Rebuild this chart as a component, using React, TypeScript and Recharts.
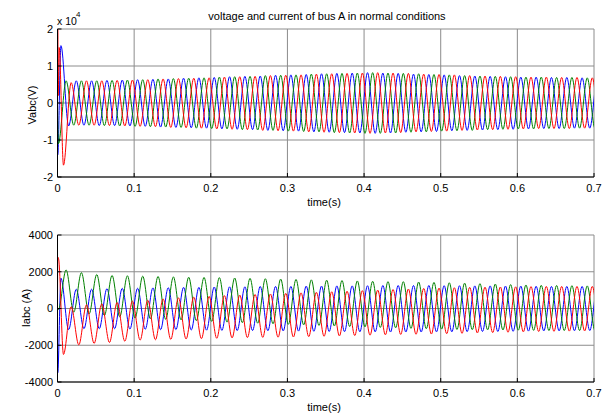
import React from 'react';
import { LineChart, Line, XAxis, YAxis, CartesianGrid } from 'recharts';

// 50 Hz signals: extrema every half period
const HALF = 0.01;
const timeTicks = [0, 0.1, 0.2, 0.3, 0.4, 0.5, 0.6, 0.7];
const vTicks = [-20000, -10000, 0, 10000, 20000];
const iTicks = [-4000, -2000, 0, 2000, 4000];

// ---- Voltage (V) ----
const vBlueStart: [number, number][] = [[0, 0], [0.0003, -14000]];
const vBluePeaks = [15500, 6000, 6000, 6100, 6200, 6300, 6400, 6500, 6700, 6800, 6900, 7100, 7200, 7300, 7500, 7600, 7700, 7900, 8000, 8100, 8200, 8100, 8000, 7800, 7700, 7600, 7400, 7300, 7200, 7100, 7000, 7000, 6900, 6900, 6800, 6800];
const vBlueTroughs = [-6200, -6000, -6100, -6100, -6200, -6300, -6500, -6600, -6700, -6800, -7000, -7100, -7200, -7400, -7500, -7600, -7800, -7900, -8000, -8100, -8200, -8100, -7900, -7800, -7700, -7500, -7400, -7300, -7200, -7100, -7000, -6900, -6900, -6800, -6800, -6800];

const vGreenStart: [number, number][] = [[0, 0]];
const vGreenTroughs = [-11000, -6000, -6000, -6100, -6200, -6300, -6400, -6500, -6600, -6800, -6900, -7000, -7200, -7300, -7400, -7600, -7700, -7800, -8000, -8100, -8200, -8200, -8100, -7900, -7800, -7600, -7500, -7400, -7200, -7100, -7000, -7000, -6900, -6900, -6800, -6800];
const vGreenPeaks = [6000, 6000, 6000, 6100, 6200, 6300, 6500, 6600, 6700, 6800, 7000, 7100, 7200, 7400, 7500, 7600, 7800, 7900, 8000, 8100, 8200, 8100, 8000, 7900, 7700, 7600, 7400, 7300, 7200, 7100, 7000, 7000, 6900, 6900, 6800, 6800];

const vRedStart: [number, number][] = [[0, 0], [0.0003, 20000], [0.0009, 2000], [0.0022, 15000]];
const vRedTroughs = [-16800, -6000, -6000, -6100, -6200, -6300, -6400, -6600, -6700, -6800, -7000, -7100, -7200, -7400, -7500, -7600, -7800, -7900, -8000, -8100, -8200, -8100, -8000, -7800, -7700, -7600, -7400, -7300, -7200, -7100, -7000, -6900, -6900, -6900, -6800, -6800];
const vRedPeaks = [5500, 6000, 6000, 6100, 6200, 6300, 6500, 6600, 6700, 6800, 7000, 7100, 7200, 7400, 7500, 7600, 7800, 7900, 8000, 8100, 8200, 8100, 8000, 7800, 7700, 7600, 7400, 7300, 7200, 7100, 7000, 7000, 6900, 6900, 6800, 6800];

// ---- Current (A) ----
const iBlueStart: [number, number][] = [[0, 0], [0.0003, -3500]];
const iBluePeaks = [1650, 1050, 1050, 1080, 1100, 1100, 1120, 1130, 1150, 1150, 1170, 1180, 1180, 1200, 1200, 1200, 1220, 1220, 1230, 1230, 1240, 1250, 1250, 1250, 1250, 1240, 1240, 1230, 1230, 1220, 1220, 1210, 1200, 1200, 1200, 1200];
const iBlueTroughs = [-1150, -1100, -1100, -1100, -1120, -1130, -1150, -1150, -1170, -1180, -1190, -1200, -1200, -1210, -1220, -1230, -1240, -1250, -1260, -1270, -1270, -1280, -1280, -1280, -1270, -1270, -1260, -1250, -1250, -1240, -1230, -1220, -1220, -1210, -1200, -1200];

const iGreenStart: [number, number][] = [[0, 0]];
const iGreenTroughs = [-50, -200, -300, -380, -450, -520, -560, -590, -620, -660, -700, -740, -770, -800, -830, -860, -890, -920, -950, -980, -1000, -1030, -1050, -1080, -1100, -1120, -1140, -1150, -1160, -1170, -1180, -1190, -1200, -1200, -1200, -1200];
const iGreenPeaks = [2100, 1950, 1850, 1800, 1780, 1760, 1740, 1720, 1700, 1690, 1680, 1660, 1640, 1620, 1600, 1580, 1560, 1540, 1520, 1500, 1480, 1460, 1460, 1440, 1420, 1400, 1380, 1350, 1330, 1300, 1280, 1260, 1250, 1240, 1230, 1220];

const iRedStart: [number, number][] = [[0, 0], [0.0003, 2800], [0.0015, 2700]];
const iRedTroughs = [-2500, -1980, -1900, -1850, -1780, -1720, -1700, -1680, -1660, -1640, -1620, -1600, -1580, -1570, -1560, -1550, -1530, -1510, -1490, -1470, -1450, -1430, -1410, -1400, -1390, -1370, -1350, -1330, -1310, -1290, -1270, -1250, -1240, -1230, -1220, -1210];
const iRedPeaks = [100, 200, 250, 330, 400, 450, 520, 580, 620, 660, 700, 730, 760, 790, 820, 850, 880, 910, 940, 970, 1000, 1030, 1060, 1090, 1110, 1130, 1150, 1160, 1170, 1180, 1190, 1200, 1200, 1200, 1200, 1200];

// phase timing of first extremum (s)
const BLUE_T0 = 0.0045;
const GREEN_T0 = 0.0012;
const RED_T0 = 0.0078;

type Pt = { t: number; v: number };
function build(prefix: [number, number][], start: number, firstIsPeak: boolean, peaks: number[], troughs: number[]): Pt[] {
  const pts: Pt[] = prefix.map(([t, v]) => ({ t, v }));
  const n = Math.min(peaks.length, troughs.length) * 2;
  for (let i = 0; i < n; i++) {
    const k = Math.floor(i / 2);
    const isPeak = (i % 2 === 0) === firstIsPeak;
    pts.push({ t: +(start + i * HALF).toFixed(5), v: isPeak ? peaks[k] : troughs[k] });
  }
  return pts;
}

const vBlue = build(vBlueStart, BLUE_T0, true, vBluePeaks, vBlueTroughs);
const vGreen = build(vGreenStart, GREEN_T0, false, vGreenPeaks, vGreenTroughs);
const vRed = build(vRedStart, RED_T0, false, vRedPeaks, vRedTroughs);
const iBlue = build(iBlueStart, BLUE_T0, true, iBluePeaks, iBlueTroughs);
const iGreen = build(iGreenStart, GREEN_T0, false, iGreenPeaks, iGreenTroughs);
const iRed = build(iRedStart, RED_T0, false, iRedPeaks, iRedTroughs);

const FONT = '"Liberation Sans", Arial, Helvetica, sans-serif';
const tickStyle = { fill: '#000', fontSize: 11, fontFamily: FONT };

type PanelProps = {
  series: { data: Pt[]; color: string }[];
  yDomain: [number, number];
  yTicks: number[];
  yFmt: (v: number) => string;
  height: number;
  marginTop: number;
  xAxisHeight: number;
  xTickMargin: number;
};

function Panel({ series, yDomain, yTicks, yFmt, height, marginTop, xAxisHeight, xTickMargin }: PanelProps) {
  return (
    <LineChart width={605} height={height} margin={{ top: marginTop, right: 11, bottom: 0, left: 0 }}>
      <CartesianGrid stroke="#8c8c8c" strokeWidth={1} />
      <XAxis
        dataKey="t"
        type="number"
        domain={[0, 0.7]}
        ticks={timeTicks}
        interval={0}
        allowDataOverflow
        height={xAxisHeight}
        tick={tickStyle}
        tickSize={-4}
        tickMargin={xTickMargin}
        tickLine={{ stroke: '#000' }}
        axisLine={{ stroke: '#000' }}
        tickFormatter={(v: number) => String(v)}
      />
      <XAxis
        xAxisId="top"
        orientation="top"
        dataKey="t"
        type="number"
        domain={[0, 0.7]}
        ticks={timeTicks}
        interval={0}
        height={0}
        tick={false}
        tickSize={-4}
        tickLine={{ stroke: '#000' }}
        axisLine={{ stroke: '#000' }}
      />
      <YAxis
        type="number"
        domain={yDomain}
        ticks={yTicks}
        interval={0}
        allowDataOverflow
        width={57.5}
        tick={tickStyle}
        tickSize={-4}
        tickMargin={8.5}
        tickLine={{ stroke: '#000' }}
        axisLine={{ stroke: '#000' }}
        tickFormatter={yFmt}
      />
      <YAxis
        yAxisId="r"
        orientation="right"
        type="number"
        domain={yDomain}
        ticks={yTicks}
        interval={0}
        width={0}
        tick={false}
        tickSize={-4}
        tickLine={{ stroke: '#000' }}
        axisLine={{ stroke: '#000' }}
      />
      {series.map((s, i) => (
        <Line
          key={i}
          data={s.data}
          dataKey="v"
          type="monotone"
          stroke={s.color}
          strokeWidth={1}
          dot={false}
          activeDot={false}
          isAnimationActive={false}
        />
      ))}
    </LineChart>
  );
}

export default function App() {
  return (
    <div style={{ position: 'absolute', left: 0, top: 0, width: 605, height: 414, background: '#fff' }}>
      <div style={{ position: 'absolute', left: 0, top: 0 }}>
        <Panel
          series={[
            { data: vBlue, color: '#0000ff' },
            { data: vGreen, color: '#008000' },
            { data: vRed, color: '#ff0000' },
          ]}
          yDomain={[-20000, 20000]}
          yTicks={vTicks}
          yFmt={(v: number) => String(v / 10000)}
          height={207}
          marginTop={29}
          xAxisHeight={30}
          xTickMargin={11.5}
        />
      </div>
      <div style={{ position: 'absolute', left: 0, top: 207 }}>
        <Panel
          series={[
            { data: iBlue, color: '#0000ff' },
            { data: iGreen, color: '#008000' },
            { data: iRed, color: '#ff0000' },
          ]}
          yDomain={[-4000, 4000]}
          yTicks={iTicks}
          yFmt={(v: number) => String(v)}
          height={207}
          marginTop={28}
          xAxisHeight={32}
          xTickMargin={11}
        />
      </div>
      <svg width={605} height={414} style={{ position: 'absolute', left: 0, top: 0, pointerEvents: 'none' }} fontFamily={FONT}>
        <text x={327} y={20} fontSize={11} textAnchor="middle" fill="#000">voltage and current of bus A in normal conditions</text>
        <text x={57} y={25} fontSize={10.5} fill="#000">x 10</text>
        <text x={76} y={17} fontSize={8} fill="#000">4</text>
        <text x={36} y={105} fontSize={11} textAnchor="middle" fill="#000" transform="rotate(-90 36 105)">Vabc(V)</text>
        <text x={324} y={206} fontSize={11} textAnchor="middle" fill="#000">time(s)</text>
        <text x={30} y={308} fontSize={11} textAnchor="middle" fill="#000" transform="rotate(-90 30 308)">Iabc (A)</text>
        <text x={324} y={411} fontSize={11} textAnchor="middle" fill="#000">time(s)</text>
      </svg>
    </div>
  );
}
